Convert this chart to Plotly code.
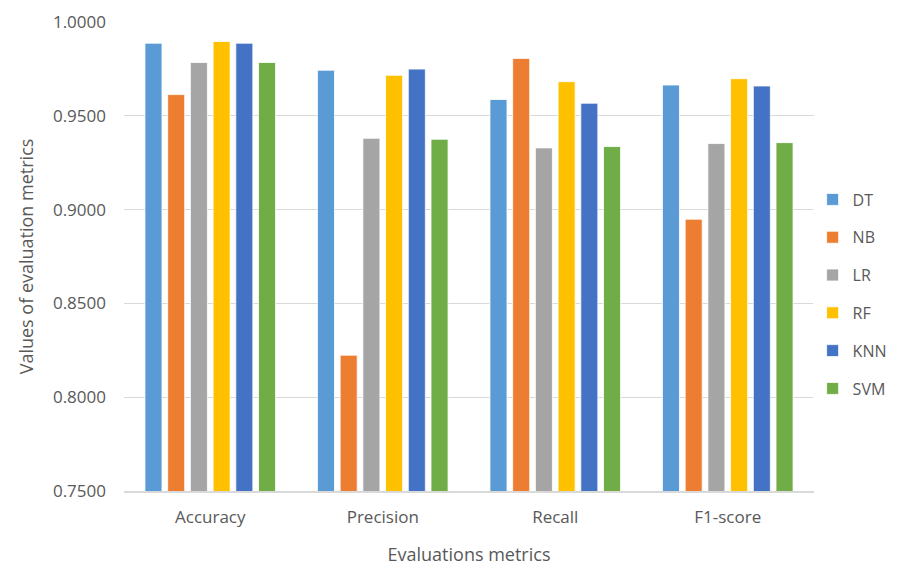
import plotly.graph_objects as go

categories = ["Accuracy", "Precision", "Recall", "F1-score"]
series_names = ["DT", "NB", "LR", "RF", "KNN", "SVM"]
dt = [0.9887, 0.9743, 0.9587, 0.9664]
nb = [0.9613, 0.8224, 0.9806, 0.8949]
lr = [0.9784, 0.9380, 0.9329, 0.9352]
rf = [0.9896, 0.9716, 0.9682, 0.9698]
knn = [0.9887, 0.9749, 0.9567, 0.9659]
svm = [0.9784, 0.9375, 0.9336, 0.9357]
colors = ["#5B9BD5", "#ED7D31", "#A5A5A5", "#FFC000", "#4472C4", "#70AD47"]
tick_vals = [0.75, 0.80, 0.85, 0.90, 0.95, 1.00]

values = [dt, nb, lr, rf, knn, svm]
font_family = "'Open Sans', Lato, sans-serif"
text_color = "#595959"

fig = go.Figure()
for name, vals, col in zip(series_names, values, colors):
    fig.add_trace(go.Bar(
        x=categories, y=vals, name=name, legendgroup=name,
        marker=dict(color=col, line=dict(color="white", width=0.8)),
    ))

fig.update_layout(
    width=897, height=558,
    margin=dict(l=116, r=91, t=14, b=75, autoexpand=False),
    paper_bgcolor="white", plot_bgcolor="white",
    barmode="group", bargap=0.21, bargroupgap=0.25,
    font=dict(family=font_family, color=text_color, size=16),
    legend=dict(x=0.998, xanchor="left", y=0.42, yanchor="middle",
                font=dict(size=16, color=text_color), tracegroupgap=14,
                itemwidth=30),
    showlegend=True,
)
fig.update_yaxes(
    range=[0.75, 1.0], tickvals=tick_vals, tickformat=".4f",
    showgrid=True, gridcolor="#D9D9D9", gridwidth=1.2,
    zeroline=False, showline=False, ticklabelstandoff=17,
    tickfont=dict(size=17, color=text_color), automargin=False,
    title=dict(text="Values of evaluation metrics", font=dict(size=18, color=text_color), standoff=14),
)
fig.update_xaxes(
    showline=True, linecolor="#D9D9D9", linewidth=1.5, automargin=False,
    tickfont=dict(size=17, color=text_color), ticklabelstandoff=10,
    title=dict(text="Evaluations metrics", font=dict(size=18, color=text_color), standoff=24),
)

fig.write_html("out.html")
